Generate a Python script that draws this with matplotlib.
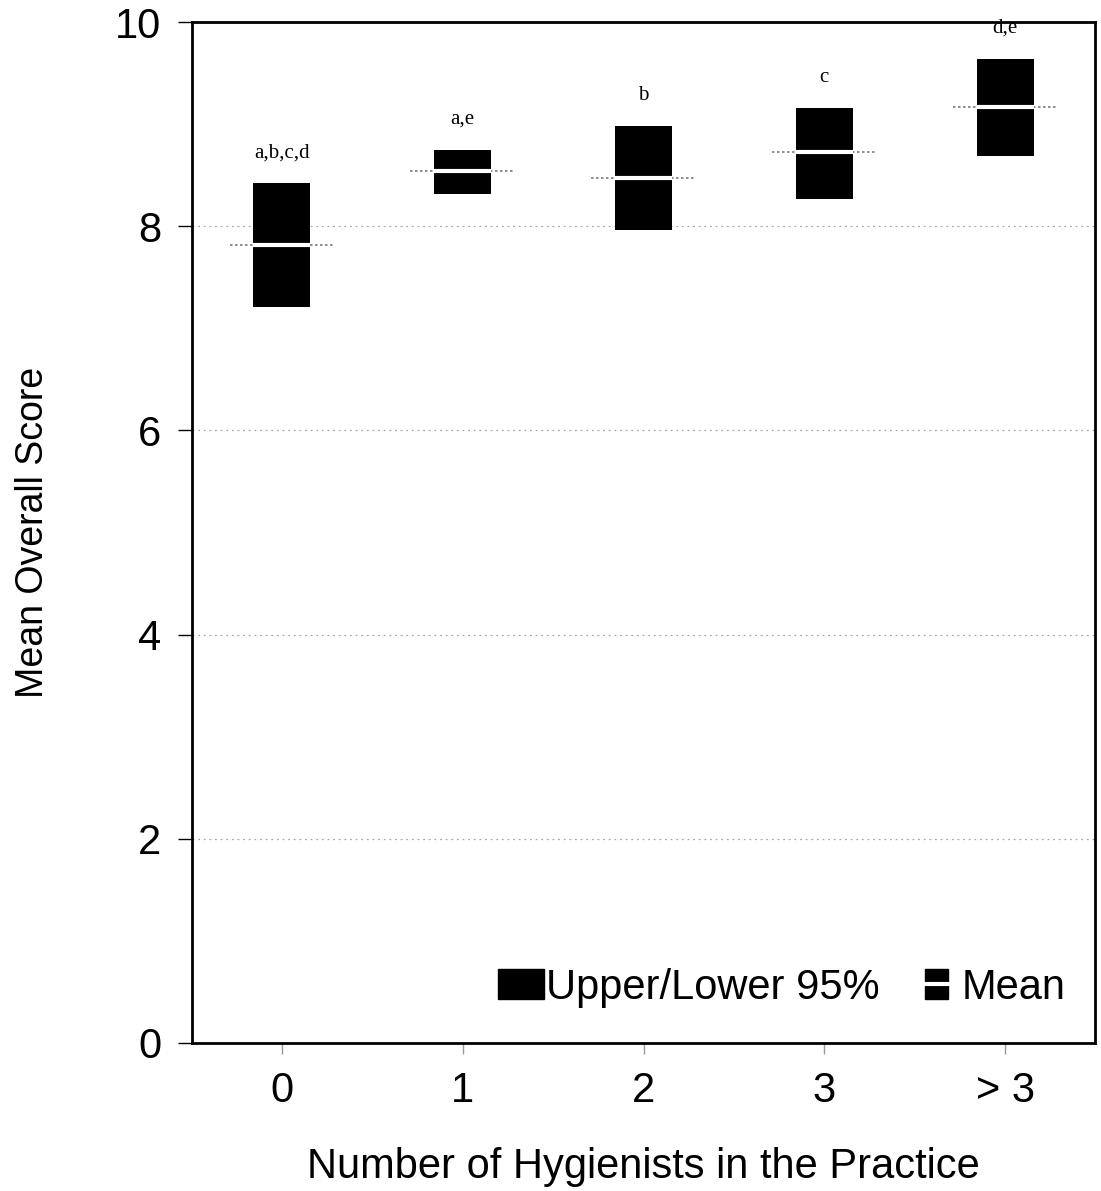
import matplotlib
matplotlib.use('Agg')
import matplotlib.pyplot as plt
from matplotlib.patches import Patch, Rectangle
from matplotlib.lines import Line2D
from matplotlib.legend_handler import HandlerBase

# data
groups = ['0', '1', '2', '3', '> 3']
lower_95 = [7.21, 8.32, 7.96, 8.27, 8.69]
upper_95 = [8.42, 8.75, 8.98, 9.16, 9.64]
means = [7.82, 8.54, 8.47, 8.73, 9.17]
letters = ['a,b,c,d', 'a,e', 'b', 'c', 'd,e']
y_ticks = [0, 2, 4, 6, 8, 10]

plt.rcParams['font.family'] = ['Liberation Sans', 'DejaVu Sans']


class MeanHandler(HandlerBase):
    """small black square cut by a white line, like the original key"""
    def create_artists(self, legend, orig_handle, xdescent, ydescent,
                       width, height, fontsize, trans):
        w = width * 0.5
        x0 = xdescent + (width - w) / 2
        r = Rectangle((x0, -ydescent), w, height, facecolor='black',
                      edgecolor='black', transform=trans)
        ln = Line2D([x0, x0 + w], [-ydescent + height * 0.5] * 2,
                    color='white', lw=3, transform=trans)
        return [r, ln]


fig = plt.figure(figsize=(11.01, 11.91), dpi=100)
ax = fig.add_axes([0.174, 0.1243, 0.821, 0.8572])

x = list(range(len(groups)))
box_w = 0.315

# faint dotted grid lines
for yv in y_ticks[1:-1]:
    ax.axhline(yv, color='#a8a8a8', lw=0.9, ls=(0, (1.5, 3)), zorder=0)

# confidence interval boxes
heights = [u - l for u, l in zip(upper_95, lower_95)]
ax.bar(x, heights, bottom=lower_95, width=box_w, color='black', zorder=2)

# mean: white bar through the box, grey dotted extension
for xi, m in zip(x, means):
    ax.hlines(m, xi - 0.29, xi + 0.29, color='#7a7a7a', lw=1.2,
              linestyles=(0, (1.5, 1.5)), zorder=1)
    ax.hlines(m, xi - box_w / 2, xi + box_w / 2, color='white', lw=3, zorder=3)

# significance letters above boxes
for xi, u, lab in zip(x, upper_95, letters):
    ax.text(xi, u + 0.3, lab, ha='center', va='center', fontsize=15,
            family=['Liberation Serif', 'DejaVu Serif'])

ax.set_xlim(-0.5, 4.5)
ax.set_ylim(0, 10)
ax.set_xticks(x)
ax.set_xticklabels(groups)
ax.set_yticks(y_ticks)
ax.tick_params(axis='both', labelsize=30, width=1, colors='black')
ax.tick_params(axis='y', length=10, pad=12)
ax.tick_params(axis='x', length=8, pad=12, color='#999999')
for s in ax.spines.values():
    s.set_linewidth(2)

ax.set_ylabel('Mean Overall Score', fontsize=27, labelpad=46)
ax.set_xlabel('Number of Hygienists in the Practice', fontsize=30, labelpad=26)

ci_handle = Patch(facecolor='black', edgecolor='black')
mean_handle = Patch(facecolor='black')
ax.legend([ci_handle, mean_handle], ['Upper/Lower 95%', 'Mean'],
          loc='lower right', bbox_to_anchor=(1.008, -0.002), ncol=2, frameon=False,
          fontsize=30, handlelength=1.1, handleheight=0.72, handletextpad=0.05,
          columnspacing=0.8, handler_map={mean_handle: MeanHandler()})

fig.savefig('out.png', dpi=100)
